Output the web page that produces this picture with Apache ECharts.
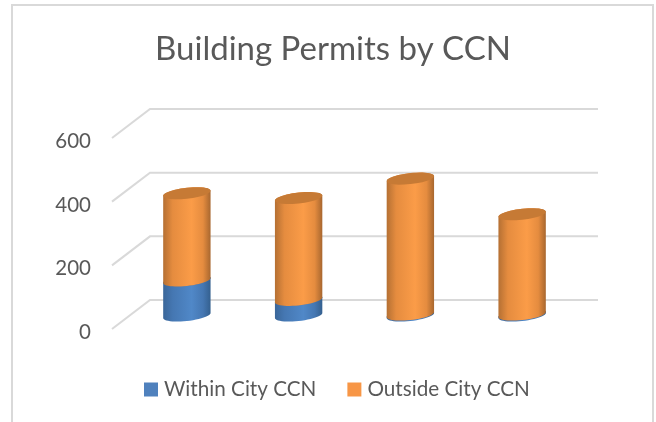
<!DOCTYPE html>
<html><head><meta charset="utf-8">
<style>html,body{margin:0;padding:0;background:#fff}#c{width:656px;height:422px}</style>
<script src="https://cdn.jsdelivr.net/npm/echarts@6/dist/echarts.min.js"></script>
</head><body><div id="c"></div>
<script>
const categories = ['1', '2', '3', '4'];
const withinCity = [110, 49, 3, 3];
const outsideCity = [274, 320, 427, 315];
const yTicks = [0, 200, 400, 600];

const DEPTH_X = 38, DEPTH_Y = 29, BAR_LIFT = 13.5, RY = 5.5, SHEAR = 2.5;
const chart = echarts.init(document.getElementById('c'), null, {renderer: 'canvas'});

function ellipseArc(cx, cy, rx, from, to) {
  const pts = [];
  for (let i = 0; i <= 24; i++) {
    const t = from + (to - from) * i / 24;
    pts.push([cx + rx * Math.cos(t), cy + RY * Math.sin(t) - SHEAR * Math.cos(t)]);
  }
  return pts;
}
function cylinder(colors, capColor) {
  return function (params, api) {
    const p0 = api.coord([api.value(0), api.value(1)]);
    const p1 = api.coord([api.value(0), api.value(2)]);
    const rx = api.size([1, 0])[0] * 0.212;
    const cx = p0[0], y0 = p0[1] - BAR_LIFT, y1 = p1[1] - BAR_LIFT;
    const body = ellipseArc(cx, y1, rx, Math.PI, 2 * Math.PI).concat(ellipseArc(cx, y0, rx, 0, Math.PI));
    return {
      type: 'group',
      children: [
        {type: 'polygon', shape: {points: body}, style: {fill: {
          type: 'linear', x: 0, y: 0, x2: 1, y2: 0,
          colorStops: [
            {offset: 0, color: colors[0]}, {offset: 0.2, color: colors[1]},
            {offset: 0.6, color: colors[2]}, {offset: 0.84, color: colors[1]},
            {offset: 1, color: colors[3]}
          ]}}},
        {type: 'polygon', shape: {points: ellipseArc(cx, y1, rx, 0, 2 * Math.PI)}, style: {fill: capColor}}
      ]
    };
  };
}
function stackData(base, vals) {
  return vals.map((v, i) => [i, base[i], base[i] + v]);
}
const zeros = withinCity.map(() => 0);

chart.setOption({
  animation: false,
  backgroundColor: '#ffffff',
  textStyle: {fontFamily: 'Lato'},
  graphic: [{type: 'rect', z: -1, shape: {x: 12, y: 5, width: 641, height: 440},
    style: {fill: '#fff', stroke: '#d9d9d9', lineWidth: 2}}],
  title: {text: 'Building Permits by CCN', left: 333, top: 33, padding: 0, textAlign: 'center',
    textStyle: {fontFamily: 'Lato', fontSize: 33, fontWeight: 'normal', color: '#595959'}},
  legend: {
    data: ['Within City CCN', 'Outside City CCN'], left: 144, top: 379, padding: 0,
    itemWidth: 14, itemHeight: 14, itemGap: 31, icon: 'rect',
    textStyle: {fontFamily: 'Lato', fontSize: 20.7, color: '#595959', padding: [0, 0, 0, 1]}
  },
  grid: {left: 131, width: 447, top: 138, height: 191},
  xAxis: {type: 'category', data: categories, show: false},
  yAxis: {type: 'value', min: 0, max: 600, interval: 200,
    splitLine: {show: false}, axisLine: {show: false}, axisTick: {show: false},
    axisLabel: {margin: 40, fontFamily: 'Lato', fontSize: 20.5, color: '#595959',
      verticalAlign: 'top', lineHeight: 7, customValues: yTicks}},
  series: [
    {type: 'custom', name: 'walls', silent: true, z: 1, clip: false,
      data: yTicks.map(v => [0, v]), encode: {x: 0, y: 1},
      renderItem(params, api) {
        const y = api.coord([0, api.value(1)])[1];
        const g = params.coordSys;
        const fx = g.x - 19;
        return {type: 'polyline', shape: {points: [
          [fx, y], [fx + DEPTH_X, y - DEPTH_Y], [g.x + g.width + 20, y - DEPTH_Y]]},
          style: {stroke: '#d9d9d9', lineWidth: 2, fill: null}};
      }},
    {type: 'custom', name: 'Within City CCN', z: 2, clip: false,
      itemStyle: {color: '#4f81bd'},
      data: stackData(zeros, withinCity), encode: {x: 0, y: [1, 2]},
      renderItem: cylinder(['#3a6699', '#4577b2', '#5088c8', '#34608f'], '#3f6fa8')},
    {type: 'custom', name: 'Outside City CCN', z: 3, clip: false,
      itemStyle: {color: '#f79646'},
      data: stackData(withinCity, outsideCity), encode: {x: 0, y: [1, 2]},
      renderItem: cylinder(['#b57033', '#e58c3f', '#fb9c48', '#a8672f'], '#c67a35')}
  ]
});
</script></body></html>
